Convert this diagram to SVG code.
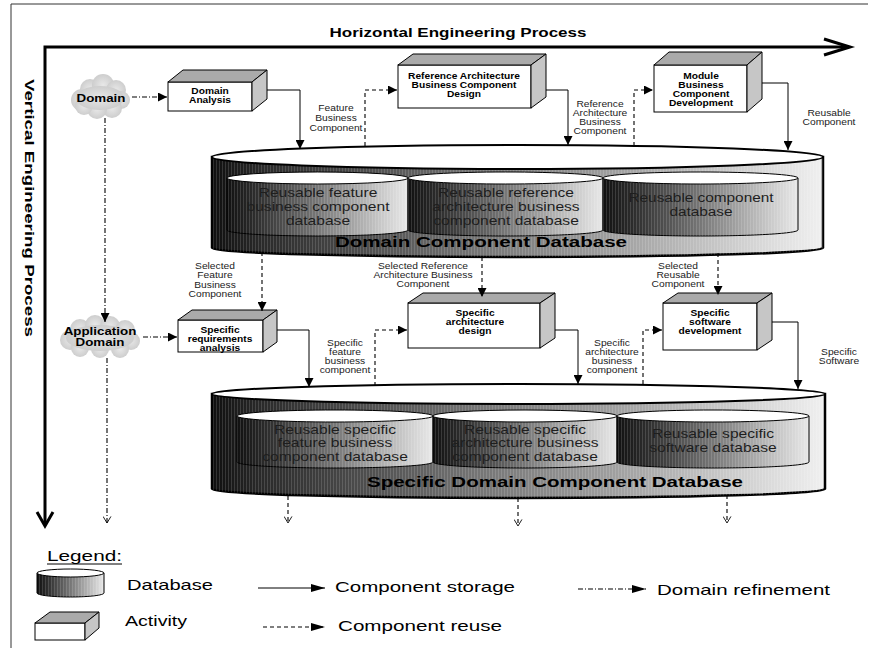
<svg xmlns="http://www.w3.org/2000/svg" width="871" height="648" viewBox="0 0 871 648">
<style>
.s{font-family:"Liberation Sans",Arial,sans-serif}
.lb{font-size:8.4px;fill:#222;text-anchor:middle}
.bx{font-size:8.3px;font-weight:bold;text-anchor:middle;fill:#000}
.cyt{font-size:12px;fill:#1e1e1e;text-anchor:middle}
.ti{font-weight:bold;fill:#000}
.lg{font-size:14.5px;fill:#000}
.cl{font-size:10.5px;font-weight:bold;text-anchor:middle;fill:#000}
.front{fill:#fff;stroke:#000;stroke-width:1}
.top{fill:#aaa;stroke:#000;stroke-width:1;stroke-linejoin:round}
.side{fill:#c6c6c6;stroke:#000;stroke-width:1;stroke-linejoin:round}
.bodyB{fill:url(#gBig);stroke:#000;stroke-width:2.5}
.bodyI{fill:url(#gIn);stroke:#000;stroke-width:1}
.lid{fill:#fff;stroke:#000;stroke-width:1}
.lidB{fill:#fff;stroke:#000;stroke-width:2}
.strip{fill:url(#stripes)}
.solid{fill:none;stroke:#000;stroke-width:1}
.dash{fill:none;stroke:#000;stroke-width:1.1;stroke-dasharray:4 3}
.dd{fill:none;stroke:#000;stroke-width:1.1;stroke-dasharray:5 2 1 2}
.cloud{fill:url(#gCloud)}
</style>
<defs>
 <linearGradient id="gBig" x1="0" y1="0" x2="1" y2="0">
  <stop offset="0" stop-color="#0f0f0f"/>
  <stop offset="0.08" stop-color="#2a2a2a"/>
  <stop offset="0.4" stop-color="#6e6e6e"/>
  <stop offset="0.7" stop-color="#a8a8a8"/>
  <stop offset="1" stop-color="#f0f0f0"/>
 </linearGradient>
 <linearGradient id="gIn" x1="0" y1="0" x2="1" y2="0">
  <stop offset="0" stop-color="#111"/>
  <stop offset="0.15" stop-color="#2c2c2c"/>
  <stop offset="0.5" stop-color="#777"/>
  <stop offset="0.85" stop-color="#c8c8c8"/>
  <stop offset="1" stop-color="#e8e8e8"/>
 </linearGradient>
 <radialGradient id="gCloud" cx="0.5" cy="0.5" r="0.6">
  <stop offset="0" stop-color="#e8e8e8"/>
  <stop offset="1" stop-color="#c8c8c8"/>
 </radialGradient>
 <pattern id="stripes" width="3" height="8" patternUnits="userSpaceOnUse">
  <rect width="1" height="8" fill="#fff" opacity="0.14"/>
 </pattern>
 <marker id="ah" viewBox="0 0 10 10" refX="10" refY="5" markerWidth="9" markerHeight="9" markerUnits="userSpaceOnUse" orient="auto">
  <path d="M0,0 L10,5 L0,10 z" fill="#000"/>
 </marker>
 <marker id="ahL" viewBox="0 0 14 8" refX="14" refY="4" markerWidth="14" markerHeight="8" markerUnits="userSpaceOnUse" orient="auto">
  <path d="M0,0 L14,4 L0,8 z" fill="#000"/>
 </marker>
 <marker id="oh" viewBox="0 0 8 10" refX="7.5" refY="5" markerWidth="7" markerHeight="9" markerUnits="userSpaceOnUse" orient="auto">
  <path d="M0,0.5 L7.5,5 L0,9.5" fill="none" stroke="#000" stroke-width="1"/>
 </marker>
</defs>

<!-- frame -->
<path d="M11,648 V4 H868" fill="none" stroke="#333" stroke-width="1"/>

<!-- process axes -->
<g id="axes">
 <path d="M45,524 V47 H848" fill="none" stroke="#000" stroke-width="3"/>
 <path d="M824,39 L850,47 L824,55" fill="none" stroke="#000" stroke-width="3"/>
 <path d="M37,512 L45,526 L53,512" fill="none" stroke="#000" stroke-width="3"/>
 <text class="s ti" x="458" y="37" font-size="13" text-anchor="middle" textLength="257" lengthAdjust="spacingAndGlyphs">Horizontal Engineering Process</text>
 <text class="s ti" font-size="13" text-anchor="middle" textLength="258" lengthAdjust="spacingAndGlyphs" transform="translate(24.5,208) rotate(90)">Vertical Engineering Process</text>
</g>

<!-- Domain cloud -->
<g id="domain">
 <g class="cloud">
  <circle cx="82" cy="100" r="11"/><circle cx="90" cy="89" r="10"/><circle cx="103" cy="85" r="11"/>
  <circle cx="116" cy="90" r="10"/><circle cx="121" cy="100" r="9"/><circle cx="112" cy="108" r="10"/>
  <circle cx="97" cy="109" r="10"/><circle cx="84" cy="106" r="9"/><ellipse cx="100" cy="98" rx="24" ry="12"/>
 </g>
 <text class="s cl" transform="translate(101,0) scale(1.27,1)" x="0" y="102.5">Domain</text>
</g>

<!-- Application Domain cloud -->
<g id="appdomain">
 <g class="cloud">
  <circle cx="70" cy="340" r="10"/><circle cx="80" cy="329" r="10"/><circle cx="95" cy="325" r="10"/>
  <circle cx="110" cy="326" r="10"/><circle cx="125" cy="330" r="10"/><circle cx="131" cy="341" r="9"/>
  <circle cx="120" cy="349" r="9"/><circle cx="100" cy="349" r="9"/><circle cx="80" cy="348" r="9"/>
  <ellipse cx="100" cy="338" rx="34" ry="13"/>
 </g>
 <text class="s cl" transform="translate(100,0) scale(1.27,1)"><tspan x="0" y="335.5">Application</tspan><tspan x="0" y="346.5">Domain</tspan></text>
</g>

<!-- Activities -->
<g id="domainAnalysis">
 <rect class="front" x="168" y="82" width="84" height="29"/>
 <polygon class="top" points="168,82 183,70 267,70 252,82"/>
 <polygon class="side" points="252,82 267,70 267,99 252,111"/>
 <text class="s bx" transform="translate(210,0) scale(1.23,1)"><tspan x="0" y="94">Domain</tspan><tspan x="0" y="103">Analysis</tspan></text>
</g>
<g id="refArchDesign">
 <rect class="front" x="398" y="65" width="133" height="43"/>
 <polygon class="top" points="398,65 413,54 546,54 531,65"/>
 <polygon class="side" points="531,65 546,54 546,97 531,108"/>
 <text class="s bx" transform="translate(464,0) scale(1.23,1)"><tspan x="0" y="79">Reference Architecture</tspan><tspan x="0" y="88">Business Component</tspan><tspan x="0" y="97">Design</tspan></text>
</g>
<g id="moduleDev">
 <rect class="front" x="654" y="65" width="93" height="47"/>
 <polygon class="top" points="654,65 669,52 762,52 747,65"/>
 <polygon class="side" points="747,65 762,52 762,99 747,112"/>
 <text class="s bx" transform="translate(701,0) scale(1.23,1)"><tspan x="0" y="79">Module</tspan><tspan x="0" y="88">Business</tspan><tspan x="0" y="97">Component</tspan><tspan x="0" y="106">Development</tspan></text>
</g>
<g id="specReq">
 <rect class="front" x="178" y="320" width="85" height="32"/>
 <polygon class="top" points="178,320 192,310 277,310 263,320"/>
 <polygon class="side" points="263,320 277,310 277,342 263,352"/>
 <text class="s bx" transform="translate(220,0) scale(1.23,1)"><tspan x="0" y="333">Specific</tspan><tspan x="0" y="342">requirements</tspan><tspan x="0" y="351">analysis</tspan></text>
</g>
<g id="specArch">
 <rect class="front" x="408" y="303" width="132" height="45"/>
 <polygon class="top" points="408,303 423,293 555,293 540,303"/>
 <polygon class="side" points="540,303 555,293 555,338 540,348"/>
 <text class="s bx" transform="translate(475,0) scale(1.23,1)"><tspan x="0" y="316.5">Specific</tspan><tspan x="0" y="325.5">architecture</tspan><tspan x="0" y="334.5">design</tspan></text>
</g>
<g id="specSoft">
 <rect class="front" x="663" y="303" width="94" height="47"/>
 <polygon class="top" points="663,303 678,293 772,293 757,303"/>
 <polygon class="side" points="757,303 772,293 772,340 757,350"/>
 <text class="s bx" transform="translate(710,0) scale(1.23,1)"><tspan x="0" y="316.5">Specific</tspan><tspan x="0" y="325.5">software</tspan><tspan x="0" y="334.5">development</tspan></text>
</g>

<!-- Domain Component Database -->
<g id="domainDB">
 <path class="bodyB" d="M212,157 V248 A305.5,9 0 0 0 823,248 V157 Z"/>
 <path class="strip" d="M212,157 V248 A305.5,9 0 0 0 823,248 V157 Z"/>
 <ellipse class="lidB" cx="517.5" cy="157" rx="305.5" ry="12"/>
 <g id="db1">
  <path class="bodyI" d="M227,178 V230 A90.5,6 0 0 0 408,230 V178 Z"/>
  <path class="strip" d="M227,178 V230 A90.5,6 0 0 0 408,230 V178 Z"/>
  <ellipse class="lid" cx="317.5" cy="178" rx="90.5" ry="6"/>
  <text class="s cyt" transform="translate(318,0) scale(1.3,1)"><tspan x="0" y="197.5">Reusable feature</tspan><tspan x="0" y="211">business component</tspan><tspan x="0" y="225">database</tspan></text>
 </g>
 <g id="db2">
  <path class="bodyI" d="M408,178 V230 A97.5,6 0 0 0 603,230 V178 Z"/>
  <path class="strip" d="M408,178 V230 A97.5,6 0 0 0 603,230 V178 Z"/>
  <ellipse class="lid" cx="505.5" cy="178" rx="97.5" ry="6"/>
  <text class="s cyt" transform="translate(506,0) scale(1.3,1)"><tspan x="0" y="197.5">Reusable reference</tspan><tspan x="0" y="211">architecture business</tspan><tspan x="0" y="225">component database</tspan></text>
 </g>
 <g id="db3">
  <path class="bodyI" d="M603,178 V230 A97.5,6 0 0 0 798,230 V178 Z"/>
  <path class="strip" d="M603,178 V230 A97.5,6 0 0 0 798,230 V178 Z"/>
  <ellipse class="lid" cx="700.5" cy="178" rx="97.5" ry="6"/>
  <text class="s cyt" transform="translate(701,0) scale(1.28,1)"><tspan x="0" y="202.5">Reusable component</tspan><tspan x="0" y="216">database</tspan></text>
 </g>
 <text class="s ti" x="481" y="247" font-size="14.5" text-anchor="middle" textLength="292" lengthAdjust="spacingAndGlyphs">Domain Component Database</text>
</g>

<!-- Specific Domain Component Database -->
<g id="specificDB">
 <path class="bodyB" d="M212,394 V489 A306.5,9 0 0 0 825,489 V394 Z"/>
 <path class="strip" d="M212,394 V489 A306.5,9 0 0 0 825,489 V394 Z"/>
 <ellipse class="lidB" cx="518.5" cy="394" rx="306.5" ry="10"/>
 <g id="sdb1">
  <path class="bodyI" d="M237,416 V462 A98,6 0 0 0 433,462 V416 Z"/>
  <path class="strip" d="M237,416 V462 A98,6 0 0 0 433,462 V416 Z"/>
  <ellipse class="lid" cx="335" cy="416" rx="98" ry="6"/>
  <text class="s cyt" transform="translate(335,0) scale(1.3,1)"><tspan x="0" y="434">Reusable specific</tspan><tspan x="0" y="447.5">feature business</tspan><tspan x="0" y="461.5">component database</tspan></text>
 </g>
 <g id="sdb2">
  <path class="bodyI" d="M433,416 V462 A92,6 0 0 0 617,462 V416 Z"/>
  <path class="strip" d="M433,416 V462 A92,6 0 0 0 617,462 V416 Z"/>
  <ellipse class="lid" cx="525" cy="416" rx="92" ry="6"/>
  <text class="s cyt" transform="translate(525,0) scale(1.3,1)"><tspan x="0" y="434">Reusable specific</tspan><tspan x="0" y="447.5">architecture business</tspan><tspan x="0" y="461.5">component database</tspan></text>
 </g>
 <g id="sdb3">
  <path class="bodyI" d="M617,416 V462 A96,6 0 0 0 809,462 V416 Z"/>
  <path class="strip" d="M617,416 V462 A96,6 0 0 0 809,462 V416 Z"/>
  <ellipse class="lid" cx="713" cy="416" rx="96" ry="6"/>
  <text class="s cyt" transform="translate(713,0) scale(1.3,1)"><tspan x="0" y="438">Reusable specific</tspan><tspan x="0" y="452">software database</tspan></text>
 </g>
 <text class="s ti" x="555" y="487" font-size="14.5" text-anchor="middle" textLength="376" lengthAdjust="spacingAndGlyphs">Specific Domain Component Database</text>
</g>

<!-- connectors -->
<g id="connectors">
 <!-- component storage -->
 <path class="solid" d="M267,90 H300 V149" marker-end="url(#ah)"/>
 <path class="solid" d="M546,90 H568 V145" marker-end="url(#ah)"/>
 <path class="solid" d="M762,83 H788 V150" marker-end="url(#ah)"/>
 <path class="solid" d="M277,330 H309 V387" marker-end="url(#ah)"/>
 <path class="solid" d="M555,330 H578 V384" marker-end="url(#ah)"/>
 <path class="solid" d="M772,322 H798 V389" marker-end="url(#ah)"/>
 <!-- component reuse -->
 <path class="dash" d="M365,146 V90 H397" marker-end="url(#ah)"/>
 <path class="dash" d="M634,146 V90 H653" marker-end="url(#ah)"/>
 <path class="dash" d="M262,252 V311" marker-end="url(#ah)"/>
 <path class="dash" d="M482,257 V297" marker-end="url(#ah)"/>
 <path class="dash" d="M718,253 V295" marker-end="url(#ah)"/>
 <path class="dash" d="M375,386 V330 H407" marker-end="url(#ah)"/>
 <path class="dash" d="M643,384 V330 H662" marker-end="url(#ah)"/>
 <!-- domain refinement -->
 <path class="dd" d="M132,97 H167" marker-end="url(#ah)"/>
 <path class="dd" d="M105,118 V322" marker-end="url(#ah)"/>
 <path class="dd" d="M143,337 H177" marker-end="url(#ah)"/>
 <path class="dd" d="M107,358 V523" stroke-width="0.9" marker-end="url(#oh)"/>
 <!-- outgoing reuse -->
 <path class="dash" d="M288,496 V523" stroke-width="0.9" marker-end="url(#oh)"/>
 <path class="dash" d="M518,498 V526" stroke-width="0.9" marker-end="url(#oh)"/>
 <path class="dash" d="M727,495 V523" stroke-width="0.9" marker-end="url(#oh)"/>
</g>

<!-- connector labels -->
<g id="labels">
 <text class="s lb" transform="translate(336,0) scale(1.22,1)"><tspan x="0" y="111.5">Feature</tspan><tspan x="0" y="121.5">Business</tspan><tspan x="0" y="131">Component</tspan></text>
 <text class="s lb" transform="translate(600,0) scale(1.22,1)"><tspan x="0" y="107.5">Reference</tspan><tspan x="0" y="116.5">Architecture</tspan><tspan x="0" y="125.5">Business</tspan><tspan x="0" y="134.5">Component</tspan></text>
 <text class="s lb" transform="translate(829,0) scale(1.22,1)"><tspan x="0" y="116.5">Reusable</tspan><tspan x="0" y="125.5">Component</tspan></text>
 <text class="s lb" transform="translate(215,0) scale(1.22,1)"><tspan x="0" y="269">Selected</tspan><tspan x="0" y="278">Feature</tspan><tspan x="0" y="288">Business</tspan><tspan x="0" y="297">Component</tspan></text>
 <text class="s lb" transform="translate(423,0) scale(1.22,1)"><tspan x="0" y="269">Selected Reference</tspan><tspan x="0" y="278">Architecture Business</tspan><tspan x="0" y="287">Component</tspan></text>
 <text class="s lb" transform="translate(678,0) scale(1.22,1)"><tspan x="0" y="269">Selected</tspan><tspan x="0" y="278">Reusable</tspan><tspan x="0" y="287">Component</tspan></text>
 <text class="s lb" transform="translate(345,0) scale(1.22,1)"><tspan x="0" y="346">Specific</tspan><tspan x="0" y="355">feature</tspan><tspan x="0" y="364">business</tspan><tspan x="0" y="373">component</tspan></text>
 <text class="s lb" transform="translate(612,0) scale(1.22,1)"><tspan x="0" y="346">Specific</tspan><tspan x="0" y="355">architecture</tspan><tspan x="0" y="364">business</tspan><tspan x="0" y="373">component</tspan></text>
 <text class="s lb" transform="translate(839,0) scale(1.22,1)"><tspan x="0" y="355">Specific</tspan><tspan x="0" y="364">Software</tspan></text>
</g>

<!-- legend -->
<g id="legend">
 <text class="s lg" x="47" y="561" textLength="75" lengthAdjust="spacingAndGlyphs">Legend:</text>
 <line x1="47" y1="564" x2="122" y2="564" stroke="#000" stroke-width="1"/>
 <g id="legendDB">
  <path class="bodyI" d="M37,573 V593 A33.5,4 0 0 0 104,593 V573 Z"/>
  <path class="strip" d="M37,573 V593 A33.5,4 0 0 0 104,593 V573 Z"/>
  <ellipse class="lid" cx="70.5" cy="573" rx="33.5" ry="4"/>
 </g>
 <text class="s lg" x="127" y="590" textLength="86" lengthAdjust="spacingAndGlyphs">Database</text>
 <g id="legendActivity">
  <rect class="front" x="35" y="623" width="50" height="17"/>
  <polygon class="top" points="35,623 50,612 99,612 85,623"/>
  <polygon class="side" points="85,623 99,612 99,628 85,640"/>
 </g>
 <text class="s lg" x="125" y="626" textLength="62" lengthAdjust="spacingAndGlyphs">Activity</text>
 <path class="solid" d="M258,588 H325" marker-end="url(#ahL)"/>
 <text class="s lg" x="335" y="592" textLength="180" lengthAdjust="spacingAndGlyphs">Component storage</text>
 <path class="dash" d="M263,627 H325" stroke-dasharray="3 2" marker-end="url(#ahL)"/>
 <text class="s lg" x="338" y="631" textLength="164" lengthAdjust="spacingAndGlyphs">Component reuse</text>
 <path class="dd" d="M578,589 H646" stroke-dasharray="3 2 1 2" stroke-width="0.9" marker-end="url(#ahL)"/>
 <text class="s lg" x="657" y="595" textLength="173" lengthAdjust="spacingAndGlyphs">Domain refinement</text>
</g>
</svg>
